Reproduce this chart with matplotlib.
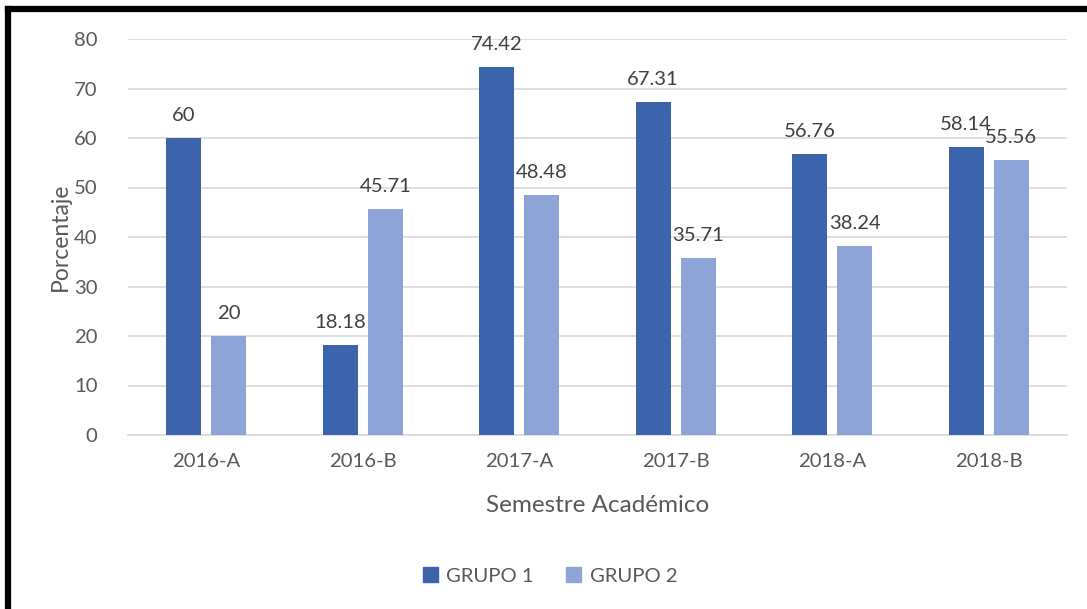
import matplotlib
matplotlib.use("Agg")
import matplotlib.pyplot as plt
import numpy as np
from matplotlib.lines import Line2D

categories = ["2016-A", "2016-B", "2017-A", "2017-B", "2018-A", "2018-B"]
grupo1 = [60, 18.18, 74.42, 67.31, 56.76, 58.14]
grupo2 = [20, 45.71, 48.48, 35.71, 38.24, 55.56]
labels1 = ["60", "18.18", "74.42", "67.31", "56.76", "58.14"]
labels2 = ["20", "45.71", "48.48", "35.71", "38.24", "55.56"]
series_names = ["GRUPO 1", "GRUPO 2"]

c1 = "#3C64AD"
c2 = "#8FA4D6"
txt = "#595959"

plt.rcParams['font.family'] = ['Lato', 'DejaVu Sans']

W, H = 1087, 609
fig = plt.figure(figsize=(W / 100, H / 100), dpi=100)
ax = fig.add_axes([128 / W, 1 - 435 / H, (1067 - 128) / W, (435 - 39) / H])

x = np.arange(len(categories))
bw = 0.224
gap = 0.064
off = (bw + gap) / 2
b1 = ax.bar(x - off, grupo1, bw, color=c1, label=series_names[0], zorder=3)
b2 = ax.bar(x + off, grupo2, bw, color=c2, label=series_names[1], zorder=3)

for rect, lab in zip(b1, labels1):
    ax.annotate(lab, (rect.get_x() + rect.get_width() / 2, rect.get_height()),
                xytext=(0, 14), textcoords="offset pixels", ha="center", va="bottom",
                fontsize=14.6, color="#404040")
for rect, lab in zip(b2, labels2):
    ax.annotate(lab, (rect.get_x() + rect.get_width() / 2, rect.get_height()),
                xytext=(0, 14), textcoords="offset pixels", ha="center", va="bottom",
                fontsize=14.6, color="#404040")

ax.set_xlim(-0.5, len(categories) - 0.5)
ax.set_ylim(0, 80)
ax.set_yticks(range(0, 81, 10))
ax.set_xticks(x)
ax.set_xticklabels(categories)
ax.yaxis.grid(True, color="#D9D9D9", linewidth=1.2, zorder=0)
ax.set_axisbelow(True)
for s in ["top", "right", "left"]:
    ax.spines[s].set_visible(False)
ax.spines["bottom"].set_color("#D9D9D9")
ax.spines["bottom"].set_linewidth(1.2)
ax.tick_params(axis="both", length=0, labelsize=14.6, colors=txt)
ax.tick_params(axis="y", pad=22)
ax.tick_params(axis="x", pad=13)
ax.set_ylabel("Porcentaje", fontsize=16.5, color=txt, labelpad=2)
ax.set_xlabel("Semestre Académico", fontsize=17.5, color=txt, labelpad=18)

handles = [plt.Rectangle((0, 0), 1, 1, color=c1), plt.Rectangle((0, 0), 1, 1, color=c2)]
fig.legend(handles, series_names, loc="center", bbox_to_anchor=(550 / W, 1 - 576 / H),
           ncol=2, frameon=False, fontsize=14.6, labelcolor=txt,
           handlelength=0.75, handleheight=0.75, handletextpad=0.4, columnspacing=1.6)

# black frame on left and top
fig.add_artist(Line2D([8 / W, 8 / W], [0, 1 - 9 / H], color="black", linewidth=4.5,
                      transform=fig.transFigure, solid_capstyle="projecting"))
fig.add_artist(Line2D([8 / W, 1], [1 - 9 / H, 1 - 9 / H], color="black", linewidth=4.5,
                      transform=fig.transFigure, solid_capstyle="projecting"))

fig.savefig("out.png", dpi=100, facecolor="white")
